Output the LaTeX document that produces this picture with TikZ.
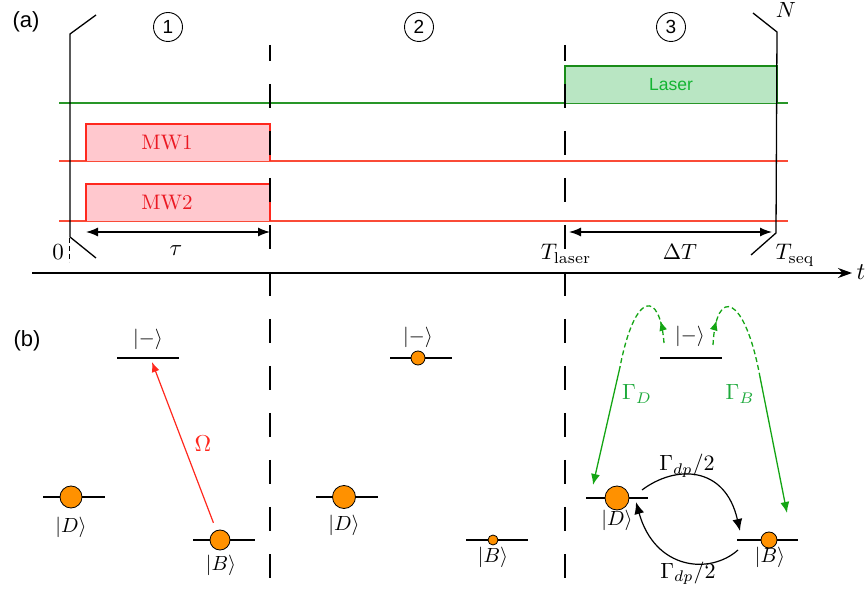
\documentclass[tikz,border=0pt]{standalone}
\usepackage{graphicx}
\usepackage{fontspec}
\newfontfamily\sansf{Liberation Sans}
\usetikzlibrary{arrows.meta,decorations.markings}
\newcommand\sx[2]{\scalebox{#1}{#2}}
\definecolor{mwred}{RGB}{255,40,30}
\definecolor{mwline}{RGB}{250,75,55}
\definecolor{mwfill}{RGB}{255,200,206}
\definecolor{mwtext}{RGB}{235,25,35}
\definecolor{lgreen}{RGB}{40,150,40}
\definecolor{lfill}{RGB}{185,230,195}
\definecolor{ldraw}{RGB}{25,140,25}
\definecolor{ltext}{RGB}{20,180,50}
\definecolor{garrow}{RGB}{20,165,20}
\definecolor{gtext}{RGB}{30,170,60}
\definecolor{popor}{RGB}{255,145,0}
\begin{document}
\begin{tikzpicture}[x=1pt,y=-1pt,
  panel/.style={font=\sansf\fontsize{22}{24}\selectfont},
  stepnum/.style={circle,draw,line width=0.9pt,minimum size=29pt,inner sep=0pt,font=\sansf\fontsize{19}{20}\selectfont},
  mlab/.style={anchor=base,inner sep=0pt},
  klab/.style={inner sep=0pt},
  glab/.style={anchor=base,inner sep=0pt},
  vdash/.style={line width=1.3pt,dash pattern=on 24pt off 23pt,dash phase=8pt},
  bracket/.style={line width=1.3pt},
  lvl/.style={line width=1.3pt},
  pop/.style={circle,draw=black,line width=0.8pt,fill=popor,inner sep=0pt},
  ga/.style={garrow,line width=1.3pt},
  tipL/.style={-{Latex[length=11pt,width=9pt]}},
]
\useasboundingbox (0,0) rectangle (868,593);

% panel labels
\node[panel] (la) at (26,22) {(a)};
\node[panel] (lb) at (27,341) {(b)};
\node[stepnum] (s1) at (168,27) {1};
\node[stepnum] (s2) at (419,27) {2};
\node[stepnum] (s3) at (671,27) {3};

% channel base lines
\draw[lgreen,line width=1.2pt] (59,103) -- (788,103);
\draw[mwline,line width=1.2pt] (59,161) -- (788,161);
\draw[mwline,line width=1.2pt] (59,221) -- (788,221);

% pulses
\draw[mwred,fill=mwfill,line width=1.2pt] (86,161) -- (86,124) -- (270,124) -- (270,161);
\draw[mwred,fill=mwfill,line width=1.2pt] (86,221) -- (86,184) -- (270,184) -- (270,221);
\node[mwtext,inner sep=0pt] (mw1) at (167,143) {\sx{2.1}{MW1}};
\node[mwtext,inner sep=0pt] (mw2) at (167,203) {\sx{2.1}{MW2}};
\draw[ldraw,fill=lfill,line width=1.2pt] (565,103) -- (565,66) -- (777,66) -- (777,103);
\node[ltext,font=\sansf\fontsize{17.5}{19}\selectfont] (las) at (671,85) {Laser};

% separators
\draw[vdash] (270,45) -- (270,593);
\draw[vdash] (565,45) -- (565,593);

% repetition brackets
\draw[bracket] (96,15) -- (70,34) -- (70,237) -- (96,258);
\draw[bracket] (753,13) -- (777,32) -- (776,233) -- (751,255);
\draw[line width=1pt,dash pattern=on 5pt off 3pt] (69,238) -- (69,262);

% durations
\draw[line width=1.3pt,{Latex[length=12pt,width=9pt]}-{Latex[length=12pt,width=9pt]}] (86,232) -- (270,232);
\draw[line width=1.3pt,{Latex[length=12pt,width=9pt]}-{Latex[length=12pt,width=9pt]}] (569,232) -- (772,232);
\node[mlab] (tau) at (176,256) {\sx{2.3}{$\tau$}};
\node[mlab] (dT) at (680,260) {\sx{2.2}{$\Delta T$}};
\node[mlab] (zero) at (58,260) {\sx{2.3}{$0$}};
\node[mlab] (tl) at (566,260) {\sx{2.25}{$T_{\mathrm{laser}}$}};
\node[mlab] (ts) at (795,260) {\sx{2.25}{$T_{\mathrm{seq}}$}};
\node[mlab] (nn) at (786,18) {\sx{2.2}{$N$}};

% time axis
\draw[line width=1.5pt,-{Stealth[length=14pt,width=10pt]}] (32,273) -- (852,273);
\node[mlab] (tt) at (861,280) {\sx{2.4}{$t$}};

% ---------- (b) stage 1
\draw[lvl] (117,358) -- (179,358);
\draw[lvl] (43,497) -- (105,497);
\draw[lvl] (193,540) -- (255,540);
\node[pop,minimum size=22pt] (pD1) at (71,497) {};
\node[pop,minimum size=20pt] (pB1) at (220,540) {};
\node[klab] (km1) at (148,339) {\sx{2.05}{$|-\rangle$}};
\node[klab] (kD1) at (71,527) {\sx{2.05}{$|D\rangle$}};
\node[klab] (kB1) at (221,565) {\sx{2.05}{$|B\rangle$}};
\coordinate (om) at (152,362);
\draw[mwred,line width=1.2pt,-{Latex[length=10pt,width=8pt]},shorten <=8pt] (pB1) -- (om);
\node[mwred,glab] (Om) at (203,452) {\sx{2.3}{$\Omega$}};

% ---------- (b) stage 2
\draw[lvl] (390,358) -- (452,358);
\draw[lvl] (316,497) -- (378,497);
\draw[lvl] (466,540) -- (528,540);
\node[pop,minimum size=14pt] (pm2) at (418,358) {};
\node[pop,minimum size=23pt] (pD2) at (344,497) {};
\node[pop,minimum size=10pt] (pB2) at (493,540) {};
\node[klab] (km2) at (418,337) {\sx{2.05}{$|-\rangle$}};
\node[klab] (kD2) at (344,525) {\sx{2.05}{$|D\rangle$}};
\node[klab] (kB2) at (493,557) {\sx{2.05}{$|B\rangle$}};

% ---------- (b) stage 3
\draw[lvl] (660,358) -- (722,358);
\draw[lvl] (586,498) -- (648,498);
\draw[lvl] (737,540) -- (798,540);
\node[pop,minimum size=24pt] (pD3) at (617,498) {};
\node[pop,minimum size=16pt] (pB3) at (769,540) {};
\node[klab] (km3) at (690,336) {\sx{2.05}{$|-\rangle$}};
\node[klab] (kD3) at (617,520) {\sx{2.05}{$|D\rangle$}};
\node[klab] (kB3) at (770,557) {\sx{2.05}{$|B\rangle$}};

% decay arrows (green)
\coordinate (gd0) at (664,343);
\coordinate (gd1) at (620,367);
\coordinate (gd2) at (593,485);
\coordinate (gb0) at (713,345);
\coordinate (gb1) at (760,377);
\coordinate (gb2) at (787,513);
\draw[ga,dash pattern=on 5pt off 3pt,
  decoration={markings,mark=at position 0.2 with {\arrow{Latex[length=10pt,width=8pt]}}},postaction={decorate}]
  (gd0) .. controls (660,290) and (635,290) .. (gd1);
\draw[ga,tipL] (gd1) -- (gd2);
\draw[ga,dash pattern=on 5pt off 3pt,
  decoration={markings,mark=at position 0.2 with {\arrow{Latex[length=10pt,width=8pt]}}},postaction={decorate}]
  (gb0) .. controls (716,285) and (745,295) .. (gb1);
\draw[ga,tipL] (gb1) -- (gb2);
\node[gtext,glab] (GD) at (637,400) {\sx{2.2}{$\Gamma_D$}};
\node[gtext,glab] (GB) at (740,400) {\sx{2.2}{$\Gamma_B$}};

% dephasing arrows
\coordinate (dp0) at (642,490);
\coordinate (dp1) at (740,531);
\coordinate (dp2) at (738,550);
\coordinate (dp3) at (636,502);
\draw[line width=1.2pt,-{Latex[length=12pt,width=10pt]}] (dp0) .. controls (675,465) and (725,465) .. (dp1);
\draw[line width=1.2pt,-{Latex[length=12pt,width=10pt]}] (dp2) .. controls (710,575) and (655,570) .. (dp3);
\node[glab] (G1) at (687,471) {\sx{2.2}{$\Gamma_{dp}/2$}};
\node[glab] (G2) at (688,578) {\sx{2.2}{$\Gamma_{dp}/2$}};
\end{tikzpicture}
\end{document}
